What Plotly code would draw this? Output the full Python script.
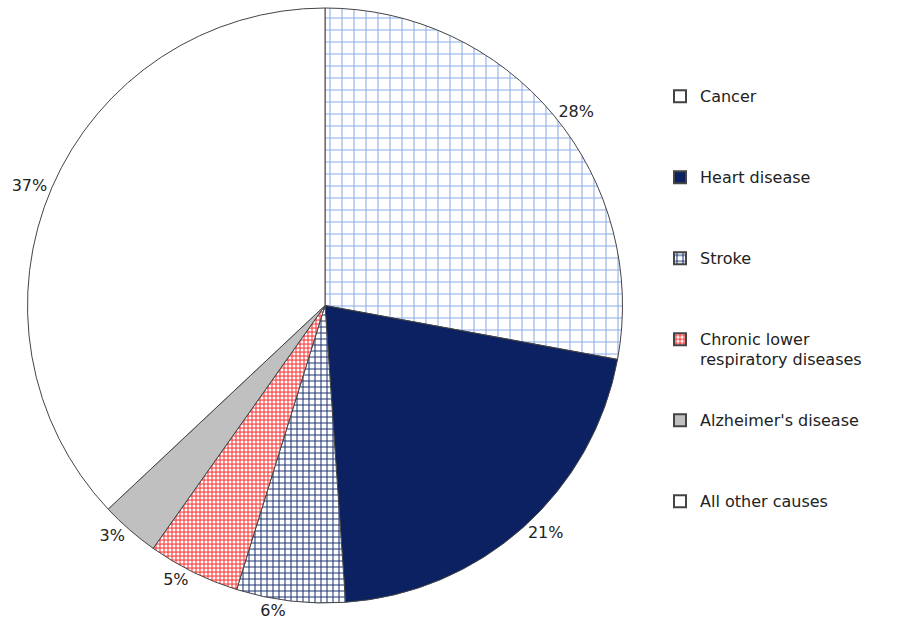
import plotly.graph_objects as go

categories = ["Cancer", "Heart disease", "Stroke", "Chronic lower<br>respiratory diseases",
              "Alzheimer's disease", "All other causes"]
values = [27.9, 21.0, 5.9, 5.0, 3.2, 37.0]

pad_lines = [3, 3, 3, 2, 3, 3]
legend_labels = [
    "<span style='font-size:16px'>" + c.replace("<br>", "</span><br><span style='font-size:16px'>") + "</span>"
    + "<br> " * n
    for c, n in zip(categories, pad_lines)
]

colors = ["white", "#0b2161", "white", "#ff5c5c", "#c0c0c0", "white"]
pattern_shapes = ["+", "", "+", ".", "", ""]
pattern_fg = ["#8eaee6", "#0b2161", "#1f3575", "white", "#c0c0c0", "white"]
pattern_size = [12, 8, 6, 4, 8, 8]
pattern_solidity = [0.17, 0.3, 0.32, 0.45, 0.3, 0.3]

W, H = 898, 638
cx, r = 325, 297.5
mt, mb = 8, 35

fig = go.Figure(go.Pie(
    labels=legend_labels,
    values=values,
    sort=False,
    direction="clockwise",
    rotation=0,
    textposition="outside",
    texttemplate="%{percent:.0%}",
    textfont=dict(family="DejaVu Sans", size=16, color="#222222"),
    marker=dict(
        colors=colors,
        line=dict(color="#444444", width=1),
        pattern=dict(shape=pattern_shapes, fgcolor=pattern_fg, bgcolor=colors,
                     size=pattern_size, solidity=pattern_solidity, fillmode="replace"),
    ),
    domain=dict(x=[(cx - r) / W, (cx + r) / W], y=[0, 1]),
    hoverinfo="label+percent",
))

fig.update_layout(
    width=W, height=H,
    margin=dict(l=0, r=0, t=mt, b=mb, autoexpand=False),
    paper_bgcolor="white",
    plot_bgcolor="white",
    font=dict(family="DejaVu Sans", size=15, color="#222222"),
    legend=dict(
        x=660 / W, y=(H - mb - 80) / (H - mt - mb), xanchor="left", yanchor="top",
        yref="paper", xref="paper",
        valign="top",
        font=dict(family="DejaVu Sans", size=15, color="#222222"),
        itemsizing="constant",
        bgcolor="rgba(0,0,0,0)",
    ),
)

fig.write_html("out.html")
